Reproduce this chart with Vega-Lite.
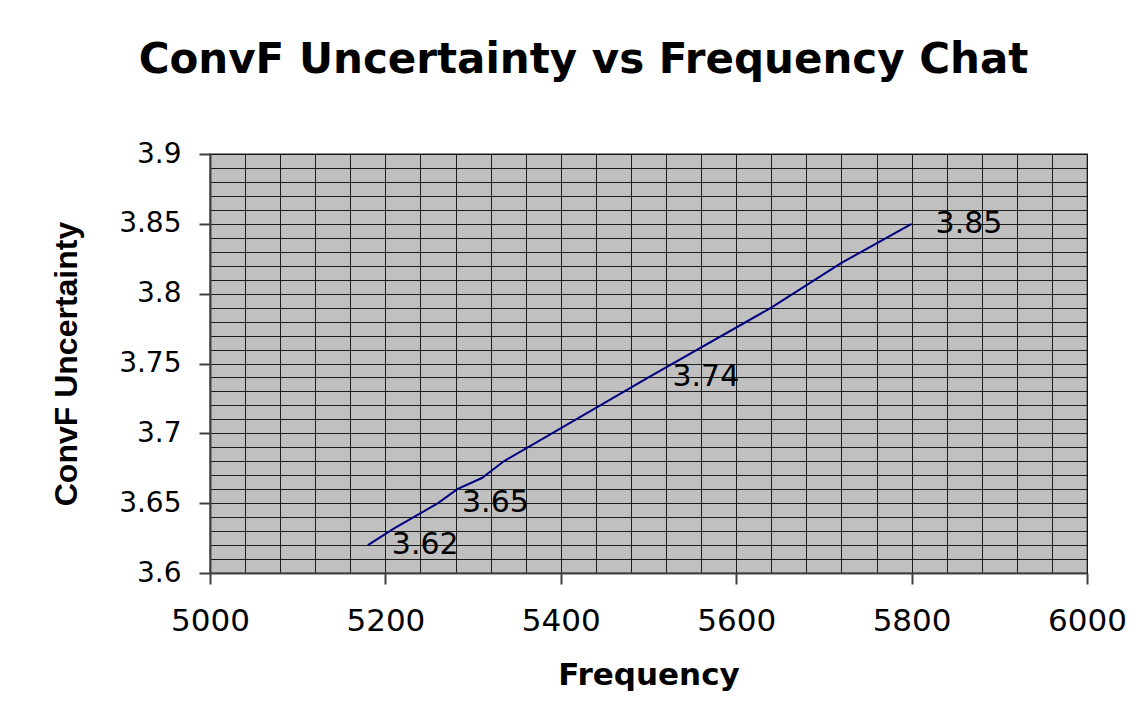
{
  "$schema": "https://vega.github.io/schema/vega-lite/v6.json",
  "autosize": "none",
  "width": 877,
  "height": 419,
  "padding": {"left": 210, "top": 154, "right": 59, "bottom": 146},
  "background": "white",
  "title": {
    "text": "ConvF Uncertainty vs Frequency Chat",
    "font": "DejaVu Sans",
    "fontWeight": "bold",
    "fontSize": 42,
    "color": "black",
    "anchor": "middle",
    "frame": "group",
    "dx": -65,
    "baseline": "alphabetic",
    "offset": 25
  },
  "data": {
    "values": [
      {"frequency": 5180, "convf": 3.62, "label": "3.62"},
      {"frequency": 5210, "convf": 3.632, "label": null},
      {"frequency": 5260, "convf": 3.65, "label": "3.65"},
      {"frequency": 5282, "convf": 3.66, "label": null},
      {"frequency": 5310, "convf": 3.668, "label": null},
      {"frequency": 5335, "convf": 3.68, "label": null},
      {"frequency": 5500, "convf": 3.74, "label": "3.74"},
      {"frequency": 5640, "convf": 3.79, "label": null},
      {"frequency": 5720, "convf": 3.822, "label": null},
      {"frequency": 5800, "convf": 3.85, "label": "3.85"}
    ]
  },
  "config": {
    "view": {"fill": "#C0C0C0", "stroke": "#8C8C8C", "strokeWidth": 2}
  },
  "encoding": {
    "x": {
      "field": "frequency",
      "type": "quantitative",
      "scale": {"domain": [5000, 6000], "nice": false, "zero": false},
      "axis": {
        "title": "Frequency",
        "titleFont": "DejaVu Sans",
        "titleFontWeight": "bold",
        "titleFontSize": 31,
        "titleColor": "black",
        "titlePadding": 24,
        "values": [5000,5040,5080,5120,5160,5200,5240,5280,5320,5360,5400,5440,5480,5520,5560,5600,5640,5680,5720,5760,5800,5840,5880,5920,5960,6000],
        "labelExpr": "datum.value % 200 === 0 ? format(datum.value, 'd') : ''",
        "labelFont": "DejaVu Sans",
        "labelFontSize": 31,
        "labelColor": "black",
        "labelPadding": 22,
        "labelOverlap": false,
        "labelFlush": false,
        "labelBound": false,
        "tickSize": 11,
        "tickColor": "#404040",
        "tickWidth": 2,
        "tickOpacity": {"condition": {"test": "datum.value % 200 === 0", "value": 1}, "value": 0},
        "domainColor": "#404040",
        "domainWidth": 2,
        "grid": true,
        "gridColor": "#000000",
        "gridOpacity": 0.85,
        "gridWidth": 1
      }
    },
    "y": {
      "field": "convf",
      "type": "quantitative",
      "scale": {"domain": [3.6, 3.9], "nice": false, "zero": false},
      "axis": {
        "title": "ConvF Uncertainty",
        "titleFont": "Liberation Sans",
        "titleFontWeight": "bold",
        "titleFontSize": 32,
        "titleColor": "black",
        "titlePadding": 35,
        "values": [3.6,3.61,3.62,3.63,3.64,3.65,3.66,3.67,3.68,3.69,3.7,3.71,3.72,3.73,3.74,3.75,3.76,3.77,3.78,3.79,3.8,3.81,3.82,3.83,3.84,3.85,3.86,3.87,3.88,3.89,3.9],
        "labelExpr": "round(datum.value*100) % 5 === 0 ? format(datum.value, '~g') : ''",
        "labelFont": "DejaVu Sans",
        "labelFontSize": 28,
        "labelColor": "black",
        "labelPadding": 18,
        "labelOverlap": false,
        "labelFlush": false,
        "labelBound": false,
        "tickSize": 11,
        "tickColor": "#404040",
        "tickWidth": 2,
        "tickOpacity": {"condition": {"test": "round(datum.value*100) % 5 === 0", "value": 1}, "value": 0},
        "domainColor": "#404040",
        "domainWidth": 2,
        "grid": true,
        "gridColor": "#000000",
        "gridOpacity": 0.85,
        "gridWidth": 1
      }
    }
  },
  "layer": [
    {
      "mark": {"type": "line", "color": "#000080", "strokeWidth": 2}
    },
    {
      "transform": [{"filter": "datum.label != null"}],
      "mark": {"type": "text", "align": "left", "baseline": "middle", "dx": 24, "font": "DejaVu Sans", "fontSize": 30, "color": "black"},
      "encoding": {"text": {"field": "label"}}
    }
  ]
}
